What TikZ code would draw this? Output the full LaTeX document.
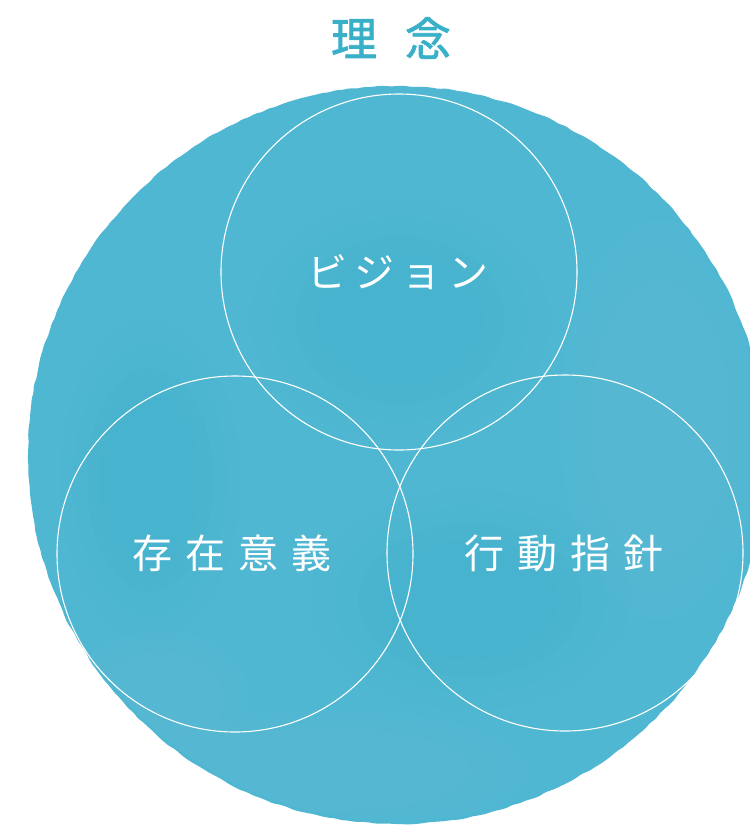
\documentclass[tikz,border=0pt]{standalone}
\usepackage{fontspec}
\newfontfamily\jpfont{Noto Sans CJK JP}
\newfontfamily\jpmed[FakeBold=1.6]{Noto Sans CJK JP}
\usetikzlibrary{decorations.pathmorphing}
\definecolor{wc}{HTML}{50B7D2}
\definecolor{wcdark}{HTML}{3AABCB}
\definecolor{wclight}{HTML}{6CC0D4}
\definecolor{titlec}{HTML}{3AAFC8}
\tikzset{
  ring/.style={draw=white, line width=1.1pt},
  label/.style={text=white, font=\jpfont\fontsize{40}{44}\selectfont, inner sep=0pt},
  blob/.style={opacity=0.08},
}
\begin{document}
\begin{tikzpicture}[x=1pt,y=-1pt]
\useasboundingbox (0,0) rectangle (750,836);
\begin{scope}
\clip (0,0) rectangle (750,836);
% watercolor disc
\fill[wc, decorate, decoration={random steps, segment length=7pt, amplitude=0.8pt}, rounded corners=2pt]
  (397,455) circle[radius=369];
\begin{scope}
\clip (397,455) circle[radius=366];
\foreach \s in {1,0.85,0.7,0.55}{
  \fill[wcdark, blob] (150,480) ellipse[x radius=90*\s, y radius=160*\s];
  \fill[wcdark, blob] (470,600) ellipse[x radius=160*\s, y radius=110*\s];
  \fill[wclight, blob] (660,420) ellipse[x radius=100*\s, y radius=200*\s];
  \fill[wclight, blob] (330,770) ellipse[x radius=200*\s, y radius=60*\s];
  \fill[wclight, blob] (160,700) ellipse[x radius=90*\s, y radius=70*\s];
  \fill[wcdark, blob] (400,320) ellipse[x radius=150*\s, y radius=120*\s];
}
\end{scope}
\end{scope}
% title
\node[text=titlec, font=\jpmed\fontsize{46}{50}\selectfont, inner sep=0pt] (title) at (391,38) {理\hspace{28pt}念};
% circles
\node[ring, circle, minimum size=356pt, inner sep=0pt] (vision) at (399,272) {};
\node[ring, circle, minimum size=356pt, inner sep=0pt] (purpose) at (235,554) {};
\node[ring, circle, minimum size=356pt, inner sep=0pt] (conduct) at (565,553) {};
% labels
\node[label] (tvision) at (398,272) {ビ\hspace{7pt}ジ\hspace{7pt}ョ\hspace{7pt}ン};
\node[label] (tpurpose) at (232,553) {存\hspace{13pt}在\hspace{13pt}意\hspace{13pt}義};
\node[label] (tconduct) at (564,553) {行\hspace{13pt}動\hspace{13pt}指\hspace{13pt}針};
\end{tikzpicture}
\end{document}
